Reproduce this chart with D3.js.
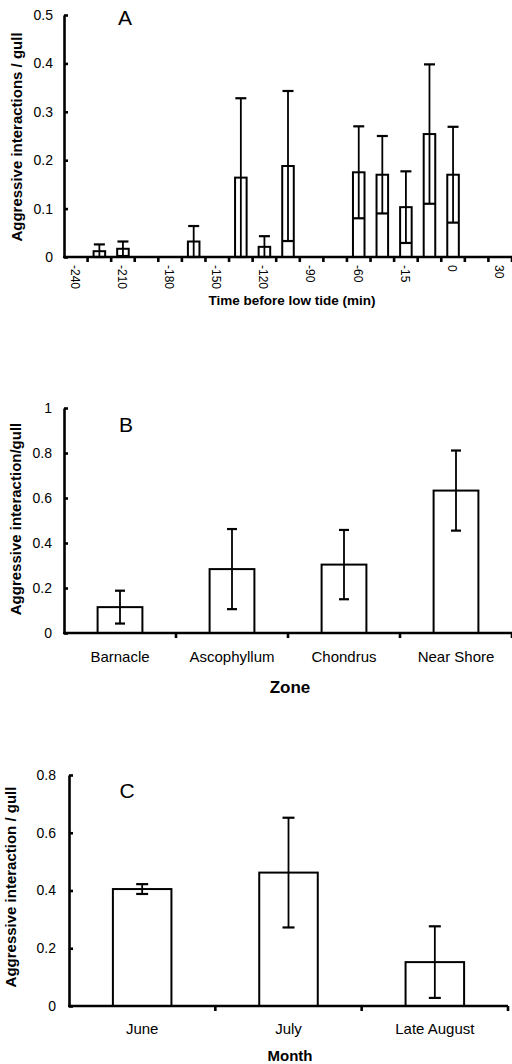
<!DOCTYPE html>
<html>
<head>
<meta charset="utf-8">
<script src="https://cdn.jsdelivr.net/npm/d3@7"></script>
<style>
  body { margin: 0; background: #fff; }
  text { font-family: "Liberation Sans", Arial, Helvetica, sans-serif; fill: #000; }
</style>
</head>
<body>
<svg id="chart" width="512" height="1064"></svg>
<script>
// Panel A - aggressive interactions by time before low tide
const timeCats = ["-240", "-225", "-210", "-195", "-180", "-165", "-150", "-135", "-120", "-105",
  "-90", "-75", "-60", "-30", "-15", "-5", "0", "15", "30"];
const timeShown = ["-240", "-210", "-180", "-150", "-120", "-90", "-60", "-15", "0", "30"];
const timeMeans = [null, 0.012, 0.017, null, null, 0.032, null, 0.164, 0.021, 0.188,
  null, null, 0.175, 0.170, 0.103, 0.254, 0.170, null, null];
const timeSE = [null, 0.014, 0.015, null, null, 0.032, null, 0.164, 0.022, 0.155,
  null, null, 0.095, 0.080, 0.074, 0.144, 0.099, null, null];
const timeTicks = [0, 0.1, 0.2, 0.3, 0.4, 0.5];

// Panel B - by zone
const zones = ["Barnacle", "Ascophyllum", "Chondrus", "Near Shore"];
const zoneMeans = [0.115, 0.284, 0.304, 0.633];
const zoneSE = [0.073, 0.178, 0.154, 0.178];
const zoneTicks = [0, 0.2, 0.4, 0.6, 0.8, 1];

// Panel C - by month
const months = ["June", "July", "Late August"];
const monthMeans = [0.405, 0.462, 0.152];
const monthSE = [0.017, 0.19, 0.124];
const monthTicks = [0, 0.2, 0.4, 0.6, 0.8];

const svg = d3.select("#chart");
const fmt = d3.format("~g");

function drawPanel(p) {
  const g = svg.append("g");
  const x = d3.scaleBand().domain(p.cats).range([p.left, p.right]).padding(0);
  const y = d3.scaleLinear().domain([0, p.yMax]).range([p.bottom, p.top]);
  const bw = x.bandwidth();
  const barW = bw * p.barFrac;
  const rows = p.cats
    .map((c, i) => ({ c: c, m: p.means[i], se: p.ses[i] }))
    .filter(d => d.m != null);

  // bars
  g.selectAll("rect.bar")
    .data(rows)
    .join("rect")
    .attr("class", "bar")
    .attr("x", d => x(d.c) + (bw - barW) / 2)
    .attr("y", d => y(d.m))
    .attr("width", barW)
    .attr("height", d => y(0) - y(d.m))
    .attr("fill", "#fff")
    .attr("stroke", "#000")
    .attr("stroke-width", 2);

  // error bars (+/- SE)
  const eb = g.selectAll("g.err")
    .data(rows)
    .join("g")
    .attr("class", "err")
    .attr("transform", d => `translate(${x(d.c) + bw / 2},0)`)
    .attr("stroke", "#000")
    .attr("stroke-width", 1.8);
  eb.append("line")
    .attr("y1", d => y(d.m + d.se))
    .attr("y2", d => y(Math.max(0, d.m - d.se)));
  eb.append("line")
    .attr("x1", -p.cap / 2).attr("x2", p.cap / 2)
    .attr("y1", d => y(d.m + d.se)).attr("y2", d => y(d.m + d.se))
    .attr("stroke-width", 2.2);
  eb.append("line")
    .attr("x1", -p.cap / 2).attr("x2", p.cap / 2)
    .attr("y1", d => y(Math.max(0, d.m - d.se))).attr("y2", d => y(Math.max(0, d.m - d.se)))
    .attr("stroke-width", 2.2);

  // y axis
  const yAxis = d3.axisLeft(y)
    .tickValues(p.yTicks)
    .tickFormat(fmt)
    .tickSizeInner(-4)
    .tickSizeOuter(0)
    .tickPadding(p.pad);
  g.append("g")
    .attr("transform", `translate(${p.left},0)`)
    .call(yAxis)
    .call(a => a.select(".domain").attr("stroke-width", 2.6))
    .call(a => a.selectAll(".tick line").attr("stroke-width", 2.6))
    .call(a => a.selectAll("text")
      .attr("font-size", 14)
      .style("font-family", '"Liberation Sans", Arial, sans-serif'));

  // x axis: line + ticks at category boundaries
  g.append("line")
    .attr("x1", p.left - 1).attr("x2", p.right)
    .attr("y1", y(0)).attr("y2", y(0))
    .attr("stroke", "#000").attr("stroke-width", 2.6);
  const bounds = p.cats.map(c => x(c)).concat([p.right]);
  g.selectAll("line.xt")
    .data(bounds.slice(1))
    .join("line")
    .attr("class", "xt")
    .attr("x1", d => d).attr("x2", d => d)
    .attr("y1", y(0)).attr("y2", y(0) + 5)
    .attr("stroke", "#000").attr("stroke-width", 2.6);

  // category labels
  const xAxis = d3.axisBottom(x)
    .tickSize(0)
    .tickPadding(0)
    .tickFormat(p.labelFmt || (d => d));
  const xa = g.append("g")
    .attr("transform", `translate(0,${y(0)})`)
    .call(xAxis);
  xa.select(".domain").remove();
  if (p.rotate) {
    xa.selectAll("text")
      .attr("font-size", 12)
      .attr("y", 0).attr("dy", 0)
      .attr("text-anchor", "start")
      .attr("dominant-baseline", "middle")
      .attr("transform", `translate(-2,${p.labelDy}) rotate(90)`);
  } else {
    xa.selectAll("text")
      .attr("font-size", 15)
      .attr("y", p.labelDy).attr("dy", 0);
  }

  // axis titles and panel letter
  g.append("text")
    .attr("transform", `translate(${p.yTitleX},${p.yTitleY}) rotate(-90)`)
    .attr("text-anchor", "middle")
    .attr("dy", "0.35em")
    .attr("font-size", 15)
    .attr("font-weight", "bold")
    .text(p.yTitle);
  g.append("text")
    .attr("x", p.xTitleX).attr("y", p.xTitleY)
    .attr("text-anchor", "middle")
    .attr("font-size", p.xTitleSize)
    .attr("font-weight", "bold")
    .text(p.xTitle);
  g.append("text")
    .attr("x", p.letterX).attr("y", p.letterY)
    .attr("text-anchor", "middle")
    .attr("font-size", 21)
    .text(p.letter);
}

drawPanel({
  cats: timeCats, means: timeMeans, ses: timeSE, yTicks: timeTicks, yMax: 0.5,
  left: 64, right: 512, top: 15, bottom: 257, barFrac: 0.49, cap: 11, pad: 11,
  rotate: true, labelDy: 8, labelFmt: d => (timeShown.includes(d) ? d : ""),
  yTitle: "Aggressive interactions / gull", yTitleX: 17, yTitleY: 137,
  xTitle: "Time before low tide (min)", xTitleX: 292, xTitleY: 305, xTitleSize: 13.5,
  letter: "A", letterX: 125, letterY: 25
});

drawPanel({
  cats: zones, means: zoneMeans, ses: zoneSE, yTicks: zoneTicks, yMax: 1,
  left: 64, right: 512, top: 408, bottom: 633, barFrac: 0.4, cap: 10, pad: 12,
  rotate: false, labelDy: 29,
  yTitle: "Aggressive interaction/gull", yTitleX: 16, yTitleY: 519,
  xTitle: "Zone", xTitleX: 290, xTitleY: 693, xTitleSize: 17,
  letter: "B", letterX: 126, letterY: 432
});

drawPanel({
  cats: months, means: monthMeans, ses: monthSE, yTicks: monthTicks, yMax: 0.8,
  left: 69, right: 508, top: 775, bottom: 1006, barFrac: 0.4, cap: 12, pad: 13,
  rotate: false, labelDy: 28,
  yTitle: "Aggressive interaction / gull", yTitleX: 11, yTitleY: 887,
  xTitle: "Month", xTitleX: 290, xTitleY: 1061, xTitleSize: 15,
  letter: "C", letterX: 127, letterY: 798
});
</script>
</body>
</html>
